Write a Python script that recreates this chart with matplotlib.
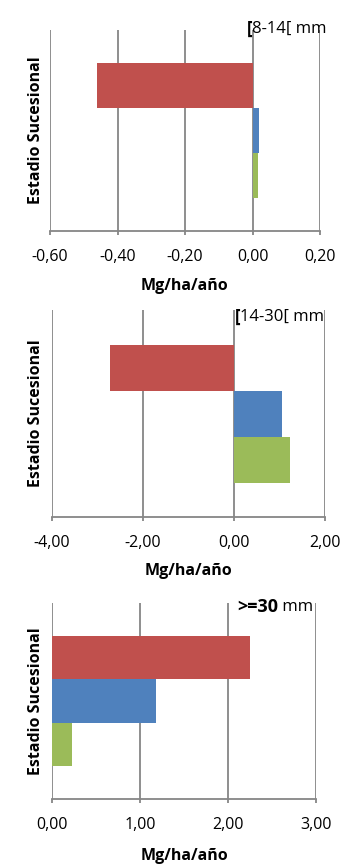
import matplotlib
matplotlib.use("Agg")
import matplotlib.pyplot as plt

plt.rcParams['font.family'] = ['Open Sans', 'DejaVu Sans']

# Data (Mg/ha/año) per diameter class; three successional stages
series = ["Estadio 1", "Estadio 2", "Estadio 3"]
colors = ["#C0504D", "#4F81BD", "#9BBB59"]

vals_8_14 = [-0.46, 0.018, 0.015]
vals_14_30 = [-2.73, 1.05, 1.23]
vals_30 = [2.25, 1.18, 0.23]

ticks_8_14 = [-0.6, -0.4, -0.2, 0.0, 0.2]
ticks_14_30 = [-4.0, -2.0, 0.0, 2.0]
ticks_30 = [0.0, 1.0, 2.0, 3.0]

titles_bold = ["[", "[", ">=30"]
titles_norm = ["8-14[ mm", "14-30[ mm", " mm"]

W, H = 360, 867
fig = plt.figure(figsize=(W / 100, H / 100), dpi=100)

# panel pixel boxes: left, right, top, bottom
boxes = [(50, 320, 30, 231), (52, 325, 310, 517), (52, 316, 603, 799)]
xlabel_top = [278, 563, 848]
title_pos = [(252, 29), (240, 317), (278, 607)]
data = [vals_8_14, vals_14_30, vals_30]
ticks = [ticks_8_14, ticks_14_30, ticks_30]

gray = "#868686"
bh = 1.0 / 4.5
offsets = [bh, 0.0, -bh]

for i in range(3):
    l, r, t, b = boxes[i]
    ax = fig.add_axes([l / W, (H - b) / H, (r - l) / W, (b - t) / H])
    vals = data[i]
    for j in range(3):
        ax.barh(offsets[j], vals[j], height=bh, color=colors[j], zorder=3)
    tk = ticks[i]
    ax.set_xlim(tk[0], tk[-1])
    ax.set_ylim(-0.5, 0.5)
    ax.set_xticks(tk)
    ax.set_xticklabels([("%.2f" % v).replace(".", ",") for v in tk])
    ax.set_yticks([])
    for s in ["top", "right", "left"]:
        ax.spines[s].set_visible(False)
    ax.spines["bottom"].set_color(gray)
    ax.spines["bottom"].set_linewidth(1.3)
    for v in tk:
        ax.axvline(v, color=gray, lw=1.3, zorder=1)
    ax.tick_params(axis="x", colors=gray, length=3, width=1.3, pad=10,
                   labelsize=11.5, labelcolor="#000000")
    ax.set_xlabel("Mg/ha/año", fontsize=11.5, fontweight="bold")
    ax.xaxis.set_label_coords(0.5, -(xlabel_top[i] - b) / (b - t))
    ax.set_ylabel("Estadio Sucesional", fontsize=11.5, fontweight="bold")
    ax.yaxis.set_label_coords((44 - l) / (r - l), 0.5)
    tx, ty = title_pos[i]
    fig.text(tx / W, (H - ty) / H, titles_bold[i], ha="right", va="center",
             fontsize=13 if i == 2 else 12, fontweight="bold")
    fig.text(tx / W, (H - ty) / H, titles_norm[i], ha="left", va="center",
             fontsize=12)

fig.savefig("out.png", dpi=100)
